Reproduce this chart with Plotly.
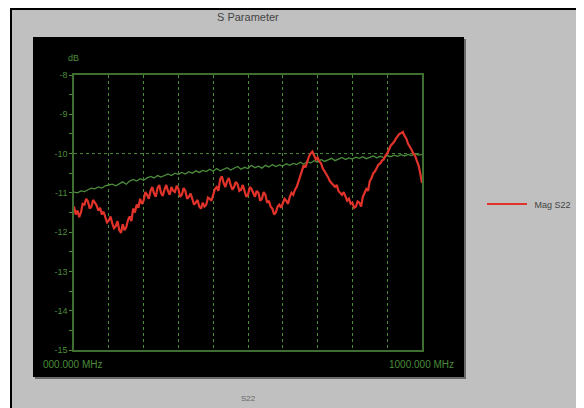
import plotly.graph_objects as go

# ---- data ----
red_freq = [i * 5 for i in range(201)]
red_mag = [
    -11.35, -11.55, -11.45, -11.62, -11.50, -11.28, -11.30, -11.15, -11.22, -11.40,
    -11.35, -11.18, -11.25, -11.32, -11.45, -11.38, -11.55, -11.48, -11.62, -11.75,
    -11.70, -11.60, -11.78, -11.90, -11.85, -11.72, -11.95, -12.02, -11.80, -11.95,
    -11.88, -11.70, -11.60, -11.72, -11.40, -11.50, -11.30, -11.38, -11.15, -11.28,
    -11.20, -10.98, -11.05, -11.15, -10.95, -10.85, -11.02, -11.10, -10.88, -10.80,
    -11.00, -11.08, -10.92, -10.80, -10.95, -11.05, -10.85, -10.95, -10.98, -10.82,
    -10.90, -11.10, -11.05, -10.88, -10.95, -11.15, -11.10, -11.02, -11.15, -11.30,
    -11.25, -11.18, -11.35, -11.40, -11.25, -11.35, -11.30, -11.12, -11.15, -11.20,
    -11.05, -10.90, -10.85, -10.95, -10.65, -10.58, -10.75, -10.85, -10.70, -10.62,
    -10.80, -10.92, -10.85, -10.72, -10.78, -10.95, -10.92, -10.80, -10.95, -11.10,
    -11.05, -10.85, -10.90, -11.02, -11.10, -10.95, -11.00, -11.20, -11.15, -10.98,
    -11.05, -11.25, -11.20, -11.35, -11.40, -11.55, -11.50, -11.35, -11.30, -11.38,
    -11.25, -11.15, -11.20, -11.28, -11.10, -11.00, -11.05, -10.92, -10.85, -10.70,
    -10.55, -10.40, -10.30, -10.35, -10.20, -10.08, -10.00, -9.95, -10.05, -10.15,
    -10.10, -10.20, -10.25, -10.38, -10.45, -10.52, -10.60, -10.70, -10.75, -10.82,
    -10.85, -10.80, -10.95, -11.00, -11.05, -10.98, -11.10, -11.20, -11.15, -11.28,
    -11.25, -11.38, -11.35, -11.22, -11.25, -11.35, -11.10, -11.00, -10.90, -10.95,
    -10.70, -10.62, -10.50, -10.45, -10.35, -10.28, -10.25, -10.18, -10.15, -10.05,
    -10.00, -9.88, -9.80, -9.75, -9.70, -9.62, -9.55, -9.50, -9.48, -9.45,
    -9.55, -9.62, -9.75, -9.82, -9.90, -10.00, -10.05, -10.18, -10.30, -10.50,
    -10.75,
]
green_freq = [i * 10 for i in range(101)]
green_mag = [
    -10.98, -11.00, -10.95, -10.97, -10.92, -10.88, -10.90, -10.85, -10.88, -10.82,
    -10.80, -10.78, -10.82, -10.76, -10.72, -10.78, -10.70, -10.66, -10.70, -10.64,
    -10.68, -10.62, -10.58, -10.62, -10.56, -10.60, -10.55, -10.52, -10.56, -10.50,
    -10.53, -10.48, -10.52, -10.46, -10.50, -10.44, -10.48, -10.43, -10.46, -10.40,
    -10.45, -10.38, -10.44, -10.40, -10.36, -10.42, -10.38, -10.33, -10.40, -10.35,
    -10.38, -10.30, -10.36, -10.32, -10.37, -10.30, -10.34, -10.28, -10.33, -10.29,
    -10.32, -10.26, -10.30, -10.25, -10.28, -10.22, -10.27, -10.20, -10.24, -10.18,
    -10.22, -10.15, -10.20, -10.16, -10.12, -10.18, -10.14, -10.10, -10.15, -10.11,
    -10.14, -10.09, -10.12, -10.08, -10.13, -10.09, -10.06, -10.11, -10.07, -10.10,
    -10.05, -10.08, -10.04, -10.07, -10.03, -10.06, -10.02, -10.05, -10.00, -10.04,
    -10.02,
]
y_ticks = [-8, -9, -10, -11, -12, -13, -14, -15]
y_tick_labels = ["-8", "-9", "-10", "-11", "-12", "-13", "-14", "-15"]
x_start_label = "000.000 MHz"
x_end_label = "1000.000 MHz"
ref_level = -10

GREEN = "#4b8b3b"
AXGREEN = "#3f6f30"
RED = "#e2332b"
FONT = "Liberation Sans, Arial, sans-serif"

OFF = 8  # page body margin
W, H = 584 - OFF, 408 - OFF
L, R, T, B = 74 - OFF, 422 - OFF, 75 - OFF, 350 - OFF


def px(x):
    return (x - OFF - L) / (R - L)


def py(y):
    return (B - (y - OFF)) / (B - T)


fig = go.Figure()
fig.add_trace(go.Scatter(x=green_freq, y=green_mag, mode="lines",
                         line=dict(color=GREEN, width=1.3), showlegend=False,
                         name="ref"))
fig.add_trace(go.Scatter(x=red_freq, y=red_mag, mode="lines",
                         line=dict(color=RED, width=2.2),
                         name="\u00a0Mag S22"))

shapes = [
    dict(type="rect", xref="paper", yref="paper", x0=px(11), x1=px(581),
         y0=py(412), y1=py(9), fillcolor="#c0c0c0",
         line=dict(color="#000000", width=2), layer="below"),
    dict(type="rect", xref="paper", yref="paper", x0=px(35), x1=px(466),
         y0=py(379), y1=py(39), fillcolor="#6a6a6a", line=dict(width=0),
         layer="below"),
    dict(type="rect", xref="paper", yref="paper", x0=px(33), x1=px(464),
         y0=py(377), y1=py(37), fillcolor="#000000", line=dict(width=0),
         layer="below"),
    dict(type="line", xref="paper", yref="y", x0=0, x1=1, y0=ref_level,
         y1=ref_level, line=dict(color=GREEN, width=1, dash="dot"),
         layer="below"),
]

annotations = [
    dict(text="S Parameter", xref="paper", yref="paper", x=px(248), y=py(17),
         xanchor="center", yanchor="middle", showarrow=False,
         font=dict(size=11, color="#444444", family=FONT)),
    dict(text="S22", xref="paper", yref="paper", x=px(248), y=py(398),
         xanchor="center", yanchor="middle", showarrow=False,
         font=dict(size=8, color="#666666", family=FONT)),
    dict(text="dB", xref="paper", yref="paper", x=px(73), y=py(58),
         xanchor="center", yanchor="middle", showarrow=False,
         font=dict(size=9, color=GREEN, family=FONT)),
    dict(text=x_start_label, xref="paper", yref="paper", x=px(72), y=py(364),
         xanchor="center", yanchor="middle", showarrow=False,
         font=dict(size=10, color=GREEN, family=FONT)),
    dict(text=x_end_label, xref="paper", yref="paper", x=px(421), y=py(364),
         xanchor="center", yanchor="middle", showarrow=False,
         font=dict(size=10, color=GREEN, family=FONT)),
]

fig.update_layout(
    width=W, height=H,
    margin=dict(l=L, r=W - R, t=T, b=H - B, pad=0, autoexpand=False),
    paper_bgcolor="#ffffff",
    plot_bgcolor="rgba(0,0,0,0)",
    shapes=shapes,
    annotations=annotations,
    font=dict(family=FONT, size=9),
    showlegend=True,
    legend=dict(x=px(482), y=py(204), xanchor="left", yanchor="middle",
                bgcolor="rgba(0,0,0,0)",
                font=dict(size=9, color="#444444", family=FONT),
                itemwidth=40),
    xaxis=dict(range=[0, 1000], dtick=100, showgrid=True, gridcolor=GREEN,
               griddash="dot", gridwidth=1, showticklabels=False,
               zeroline=False, showline=True, linecolor=AXGREEN, linewidth=1.5,
               mirror=True, ticks=""),
    yaxis=dict(range=[-15, -8], tickvals=y_ticks, ticktext=y_tick_labels,
               showgrid=False, zeroline=False, showline=True,
               linecolor=AXGREEN, linewidth=1.5, mirror=True,
               ticks="outside", ticklen=3, tickcolor=GREEN,
               tickfont=dict(size=9, color=GREEN, family=FONT),
               minor=dict(dtick=0.5, ticks="outside", ticklen=3,
                          tickcolor=GREEN, showgrid=False)),
)

fig.write_html("out.html", config={"displayModeBar": False})
